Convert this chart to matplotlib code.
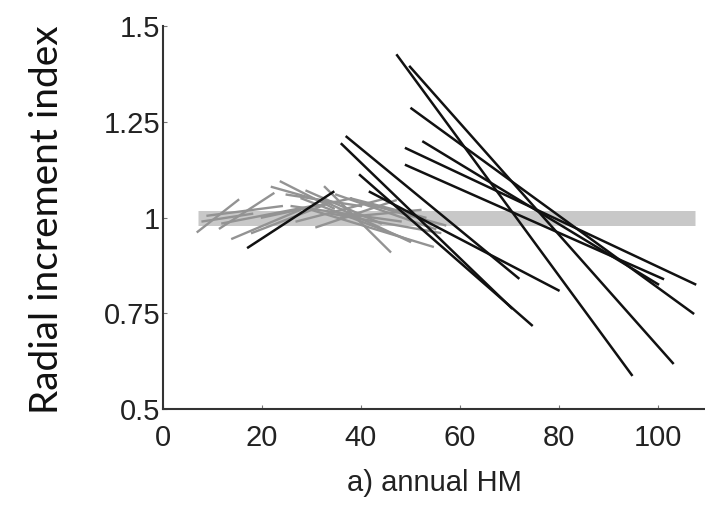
import numpy as np
from matplotlib import pyplot as plt

# light band: range of HM covered, index = 1
BAND_X = [7.0, 107.5]
BAND_Y = 1.0

# gray segments (x0, y0, x1, y1)
GRAY_X0 = [7.0, 11.5, 8.0, 14.0, 12.0, 23.8, 32.7, 25.0, 20.0, 28.0, 30.0, 33.0, 27.0, 35.0, 36.0, 22.0, 40.0, 18.0, 9.0, 31.0, 26.0, 34.0, 29.0, 38.0]
GRAY_Y0 = [0.963, 0.972, 0.990, 0.945, 0.985, 1.094, 1.080, 1.060, 1.000, 1.050, 1.020, 1.040, 0.990, 1.060, 1.000, 1.080, 1.040, 0.960, 1.005, 0.975, 1.030, 1.010, 1.070, 1.050]
GRAY_X1 = [15.2, 22.3, 18.0, 27.7, 30.0, 34.5, 45.9, 40.0, 38.0, 50.0, 54.5, 49.9, 45.0, 55.0, 52.0, 33.0, 57.0, 33.0, 24.0, 47.0, 48.0, 56.0, 44.0, 53.0]
GRAY_Y1 = [1.046, 1.063, 1.010, 1.020, 1.030, 1.024, 0.911, 1.030, 1.050, 0.940, 0.924, 0.937, 1.050, 0.970, 1.020, 1.040, 0.980, 1.035, 1.030, 1.045, 0.990, 0.960, 0.985, 1.000]

# black segments (x0, y0, x1, y1)
BLACK_X0 = [17.2, 36.1, 37.1, 39.8, 41.8, 47.3, 49.9, 50.2, 52.6, 49.1, 49.1]
BLACK_Y0 = [0.922, 1.192, 1.211, 1.111, 1.067, 1.424, 1.394, 1.285, 1.198, 1.181, 1.137]
BLACK_X1 = [34.4, 70.4, 71.8, 74.5, 79.9, 94.7, 103.0, 107.1, 100.0, 107.5, 101.0]
BLACK_Y1 = [1.067, 0.764, 0.842, 0.719, 0.810, 0.589, 0.620, 0.750, 0.826, 0.826, 0.840]

Y_TICKS = [0.5, 0.75, 1.0, 1.25, 1.5]
Y_TICKLABELS = ['0.5', '0.75', '1', '1.25', '1.5']
X_TICKS = [0, 20, 40, 60, 80, 100]

plt.rcParams['font.family'] = ['Liberation Sans', 'DejaVu Sans']

fig = plt.figure(figsize=(7.05, 5.14), dpi=100)
ax = fig.add_axes([0.2312, 0.2043, 0.7688, 0.7447])

ax.plot(BAND_X, [BAND_Y, BAND_Y], color='#c8c8c8', lw=10.8,
        solid_capstyle='butt', zorder=1)

for x0, y0, x1, y1 in zip(GRAY_X0, GRAY_Y0, GRAY_X1, GRAY_Y1):
    ax.plot([x0, x1], [y0, y1], color='#939393', lw=1.7, zorder=2)

for x0, y0, x1, y1 in zip(BLACK_X0, BLACK_Y0, BLACK_X1, BLACK_Y1):
    ax.plot([x0, x1], [y0, y1], color='#111111', lw=1.8, zorder=3)

ax.set_xlim(0, 109.5)
ax.set_ylim(0.5, 1.5)
ax.set_xticks(X_TICKS)
ax.set_yticks(Y_TICKS)
ax.set_yticklabels(Y_TICKLABELS)

for s in ['top', 'right']:
    ax.spines[s].set_visible(False)
for s in ['left', 'bottom']:
    ax.spines[s].set_linewidth(1.5)
    ax.spines[s].set_color('#333333')
ax.tick_params(direction='in', length=3, width=0.8, colors='#777777',
               labelsize=21, labelcolor='#222222', pad=2)
ax.tick_params(axis='x', pad=11)

ax.set_xlabel('a) annual HM', fontsize=21, color='#222222', labelpad=12)
fig.text(0.066, 0.572, 'Radial increment index', rotation=90, fontsize=28,
         family=['Lato', 'DejaVu Sans'], ha='center', va='center', color='#111111')

fig.savefig('out.png', dpi=100)
